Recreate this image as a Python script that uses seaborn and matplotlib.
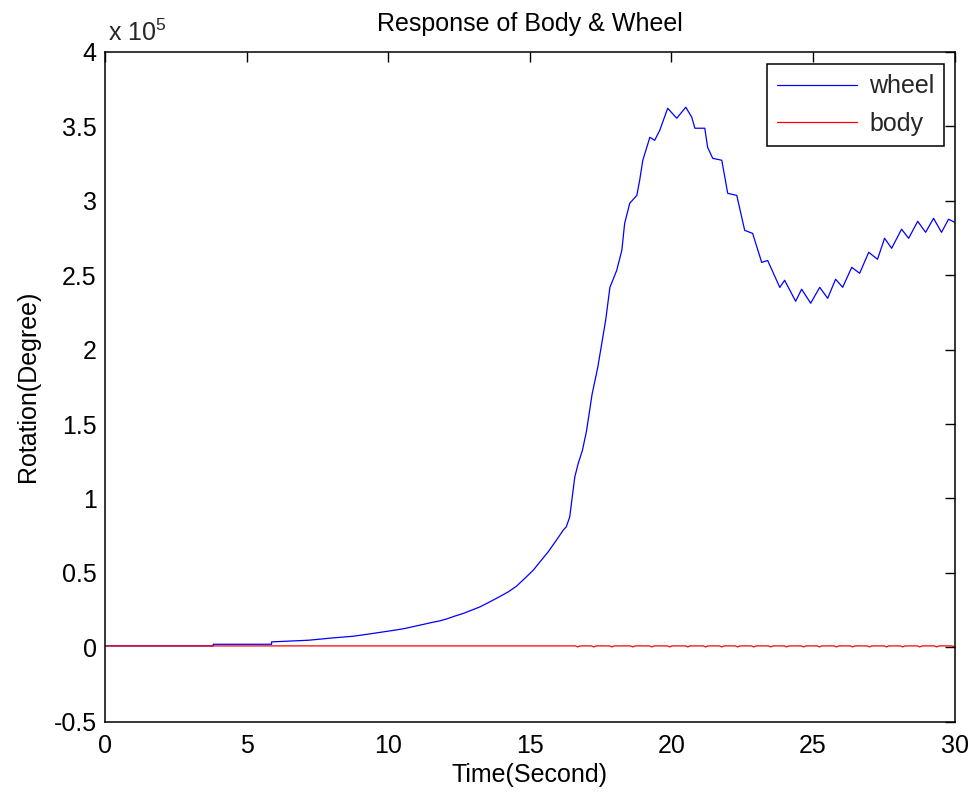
import numpy as np
import pandas as pd
import matplotlib
matplotlib.use('Agg')
import matplotlib.pyplot as plt
import seaborn as sns
from matplotlib.ticker import FuncFormatter

# 数据（单位：度）
wheel_t = [0, 3.82, 3.82, 5.88, 5.88, 7.18, 8.06, 8.77, 9.29, 9.82, 10.24, 10.59,
           10.94, 11.23, 11.53, 11.82, 12.06, 12.35, 12.65, 12.88, 13.24, 13.59,
           13.88, 14.24, 14.53, 14.82, 15.12, 15.41, 15.64, 15.94, 16.18, 16.29,
           16.41, 16.47, 16.53, 16.59, 16.71, 16.86, 17.0, 17.2, 17.4, 17.55,
           17.68, 17.83, 17.93, 18.07, 18.25, 18.35, 18.53, 18.78, 18.88, 18.99,
           19.24, 19.41, 19.59, 19.87, 20.19, 20.51, 20.72, 20.83, 21.18, 21.28,
           21.46, 21.78, 21.99, 22.31, 22.59, 22.87, 23.19, 23.40, 23.83, 24.0,
           24.39, 24.6, 24.92, 25.24, 25.52, 25.8, 26.05, 26.37, 26.65, 26.97,
           27.28, 27.53, 27.78, 28.13, 28.38, 28.7, 28.98, 29.26, 29.54, 29.79, 30.0]
wheel_deg = [1000, 1000, 2100, 2100, 3700, 4800, 6400, 7500, 8900, 10400, 11600, 12700,
             14200, 15400, 16700, 17800, 19100, 21000, 22800, 24500, 27200, 30600,
             33500, 37300, 41100, 46300, 51800, 58600, 63900, 72000, 78700, 81000,
             87600, 96600, 105600, 114500, 123500, 132400, 145000, 170000, 188000, 205000,
             219800, 241800, 246500, 253200, 266600, 284700, 298200, 303500, 313600, 327000,
             342500, 340500, 347200, 362000, 355300, 362700, 356000, 348600, 348600, 335800,
             328400, 327100, 304900, 303500, 280000, 278000, 258500, 259800, 241700, 246500,
             232400, 240500, 231100, 241800, 234400, 247200, 241800, 255200, 251200, 265300,
             260600, 274700, 268000, 280800, 274700, 286100, 278700, 288100, 278700, 287500, 285500]

body_t = [0, 16.61, 16.69, 16.77, 17.18, 17.26, 17.34, 17.82, 17.90, 17.98,
          18.56, 18.64, 18.72, 19.23, 19.31, 19.39, 19.86, 19.94, 20.02,
          20.50, 20.58, 20.66, 21.13, 21.21, 21.29, 21.70, 21.78, 21.86,
          22.26, 22.34, 22.42, 22.83, 22.91, 22.99, 23.43, 23.51, 23.59,
          23.99, 24.07, 24.15, 24.59, 24.67, 24.75, 25.15, 25.23, 25.31,
          25.75, 25.83, 25.91, 26.32, 26.40, 26.48, 26.92, 27.00, 27.08,
          27.52, 27.60, 27.68, 28.09, 28.17, 28.25, 28.69, 28.77, 28.85,
          29.29, 29.37, 29.45, 29.9, 30.0]
body_deg = [1000, 1000, 300, 1000, 1000, 300, 1000, 1000, 300, 1000,
            1000, 300, 1000, 1000, 300, 1000, 1000, 300, 1000,
            1000, 300, 1000, 1000, 300, 1000, 1000, 300, 1000,
            1000, 300, 1000, 1000, 300, 1000, 1000, 300, 1000,
            1000, 300, 1000, 1000, 300, 1000, 1000, 300, 1000,
            1000, 300, 1000, 1000, 300, 1000, 1000, 300, 1000,
            1000, 300, 1000, 1000, 300, 1000, 1000, 300, 1000,
            1000, 300, 1000, 1000, 500]

x_ticks = [0, 5, 10, 15, 20, 25, 30]
y_ticks = [-50000, 0, 50000, 100000, 150000, 200000, 250000, 300000, 350000, 400000]

sns.set_theme(style='white')
plt.rcParams['font.family'] = ['Liberation Sans', 'DejaVu Sans']
plt.rcParams['axes.unicode_minus'] = False
plt.rcParams['mathtext.fontset'] = 'custom'
plt.rcParams['mathtext.rm'] = 'Liberation Sans'

fs = 18

df_wheel = pd.DataFrame({'t': wheel_t, 'v': wheel_deg})
df_body = pd.DataFrame({'t': body_t, 'v': body_deg})

fig = plt.figure(figsize=(9.73, 7.95), dpi=100)
ax = fig.add_axes([0.108, 0.092, 0.873, 0.843])

sns.lineplot(data=df_wheel, x='t', y='v', ax=ax, color='#0000ff', lw=0.9,
             estimator=None, sort=False, label='wheel')
sns.lineplot(data=df_body, x='t', y='v', ax=ax, color='#ff0000', lw=0.9,
             estimator=None, sort=False, label='body')

ax.set_xlim(0, 30)
ax.set_ylim(-50000, 400000)
ax.set_xticks(x_ticks)
ax.set_yticks(y_ticks)
ax.xaxis.set_major_formatter(FuncFormatter(lambda v, p: f'{v:g}'))
ax.yaxis.set_major_formatter(FuncFormatter(lambda v, p: f'{v / 1e5:g}'))
ax.tick_params(direction='in', top=True, right=True, length=7, width=1,
               labelsize=fs, colors='black')
ax.tick_params(axis='x', pad=9)
ax.tick_params(axis='y', pad=6)
for s in ax.spines.values():
    s.set_color('black')
    s.set_linewidth(1.1)

ax.set_xlabel('Time(Second)', fontsize=fs, color='black', labelpad=3)
ax.set_ylabel('Rotation(Degree)', fontsize=fs, color='black', labelpad=10)
ax.set_title('Response of Body & Wheel', fontsize=fs, color='black', pad=15)
ax.text(0.003, 1.008, r'x 10$^5$', transform=ax.transAxes, fontsize=fs,
        ha='left', va='bottom')

leg = ax.legend(loc='upper right', bbox_to_anchor=(0.988, 0.981), fontsize=fs,
                frameon=True, fancybox=False, handlelength=3.2, borderaxespad=0,
                labelspacing=0.55, borderpad=0.4, handletextpad=0.5)
leg.get_frame().set_edgecolor('black')
leg.get_frame().set_linewidth(1.1)
leg.get_frame().set_alpha(1)

fig.savefig('out.png', dpi=100)
